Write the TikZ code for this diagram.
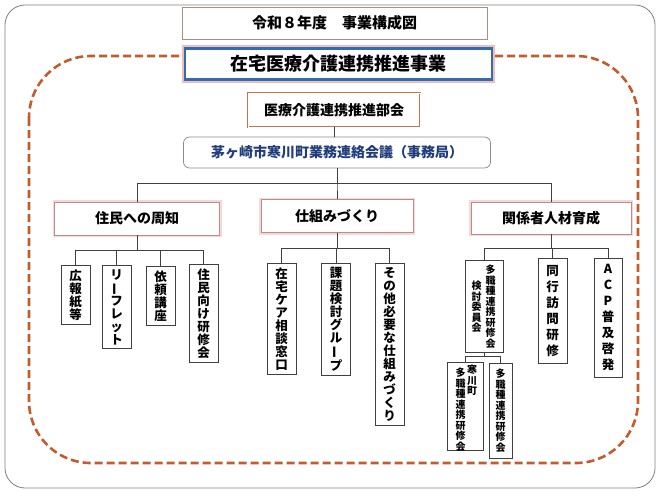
\documentclass[tikz,border=0pt]{standalone}
\usepackage{fontspec}
\setmainfont{Noto Sans CJK JP}
\usetikzlibrary{calc}

\definecolor{framegray}{HTML}{7F7F7F}
\definecolor{dashc}{HTML}{C55A2B}
\definecolor{titlec}{HTML}{A89080}
\definecolor{mainblue}{HTML}{2E6DB5}
\definecolor{glowpink}{HTML}{F3BDB4}
\definecolor{bukaic}{HTML}{C87350}
\definecolor{chigc}{HTML}{203C7A}
\definecolor{boxgray}{HTML}{8A8A8A}
\definecolor{tierc}{HTML}{C08A8A}
\definecolor{tierglow}{HTML}{F6D9D6}
\definecolor{linec}{HTML}{404040}

\newcommand\chouon{\rotatebox[origin=c]{90}{ー}}

\tikzset{
  conn/.style={draw=linec, line width=0.7pt},
  titlebox/.style={draw=titlec, line width=0.6pt, fill=white, minimum width=305, minimum height=32,
    font=\bfseries\fontsize{15}{17}\selectfont},
  mainbox/.style={preaction={draw=glowpink, line width=6pt}, draw=mainblue, line width=2.4pt, fill=white,
    minimum width=307, minimum height=31, font=\bfseries\fontsize{18}{20}\selectfont},
  bukaibox/.style={draw=bukaic, double=white, double distance=0.9pt, line width=0.8pt, fill=white,
    minimum width=172, minimum height=34, font=\bfseries\fontsize{14}{16}\selectfont},
  chigbox/.style={draw=boxgray, line width=0.7pt, rounded corners=6, fill=white, text=chigc,
    minimum width=307, minimum height=31, font=\bfseries\fontsize{14}{16}\selectfont},
  tierbox/.style={preaction={draw=tierglow, line width=4pt}, draw=tierc, line width=0.9pt, fill=white,
    minimum height=33, font=\bfseries\fontsize{14}{16}\selectfont},
  vbox/.style={draw=linec, line width=0.8pt, fill=white, align=center, anchor=north,
    minimum width=29, inner xsep=2pt, inner ysep=4pt, font=\bfseries\fontsize{12.5}{13}\selectfont},
  vwide/.style={vbox, font=\bfseries\fontsize{12.5}{16}\selectfont},
  vsmall/.style={align=center, anchor=north, inner sep=0pt, font=\bfseries\fontsize{10}{10.5}\selectfont}
}

\begin{document}
\begin{tikzpicture}[x=1pt, y=-1pt]
\useasboundingbox (0,0) rectangle (660,495);
\draw[framegray, line width=0.8pt, rounded corners=20] (5,5) rectangle (655,488);
\draw[dashc, line width=2.6pt, dash pattern=on 8pt off 4pt, rounded corners=62] (29,56) rectangle (638,463);

\node[titlebox] (title) at (334.5,23) {令和８年度　事業構成図};
\node[mainbox] (main) at (338.5,64) {在宅医療介護連携推進事業};
\node[bukaibox] (bukai) at (334,110) {医療介護連携推進部会};
\node[chigbox] (chig) at (337,152.5) {茅ヶ崎市寒川町業務連絡会議（事務局）};

\node[tierbox, minimum width=165] (jumin) at (137,218.5) {住民への周知};
\node[tierbox, minimum width=152] (shikumi) at (337,216) {仕組みづくり};
\node[tierbox, minimum width=160, minimum height=32] (kankei) at (551,218) {関係者人材育成};

\node[vbox] (koho) at (75.5,265) {広\\報\\紙\\等};
\node[vbox] (leaf) at (116.5,265) {リ\\\chouon\\フ\\レ\\ッ\\ト};
\node[vbox] (irai) at (160.5,266) {依\\頼\\講\\座};
\node[vbox] (jkenshu) at (203.5,264) {住\\民\\向\\け\\研\\修\\会};

\node[vbox, minimum height=110] (soudan) at (281.5,263) {在\\宅\\ケ\\ア\\相\\談\\窓\\口};
\node[vbox, minimum height=110] (kadai) at (336,263) {課\\題\\検\\討\\グ\\ル\\\chouon\\プ};
\node[vbox] (sonota) at (389.5,263) {そ\\の\\他\\必\\要\\な\\仕\\組\\み\\づ\\く\\り};

\node[vbox, minimum width=38, minimum height=92] (iinkai) at (484,260) {};
\node[vsmall] (iinkaiR) at (490.5,265) {多\\職\\種\\連\\携\\研\\修\\会};
\node[vsmall] (iinkaiL) at (476.5,281) {検\\討\\委\\員\\会};
\node[vwide, minimum height=105] (doukou) at (552.5,258) {同\\行\\訪\\問\\研\\修};
\node[vwide, minimum width=28, minimum height=119] (acp) at (608,258) {A\\C\\P\\普\\及\\啓\\発};

\node[vbox, minimum width=36, minimum height=88] (samu) at (465,362) {};
\node[vsmall] (samuR) at (472,365) {寒\\川\\町};
\node[vsmall] (samuL) at (460.5,368) {多\\職\\種\\連\\携\\研\\修\\会};
\node[vbox, minimum width=23, minimum height=95, font=\bfseries\fontsize{10}{10.5}\selectfont] (tasho) at (500.5,363) {多\\職\\種\\連\\携\\研\\修\\会};

\coordinate (b0) at (0,183);
\coordinate (b1) at (0,250);
\coordinate (b2) at (0,248);
\coordinate (b4) at (0,356);

\draw[conn] (bukai.south) -- (bukai.south |- chig.north);
\foreach \c in {jumin,shikumi,kankei}
  \draw[conn] (chig.south) |- (b0 -| \c.north) -- (\c.north);
\foreach \c in {koho,leaf,irai,jkenshu}
  \draw[conn] (jumin.south) |- (b1 -| \c.north) -- (\c.north);
\foreach \c in {soudan,kadai,sonota}
  \draw[conn] (shikumi.south) |- (b2 -| \c.north) -- (\c.north);
\foreach \c in {iinkai,doukou,acp}
  \draw[conn] (kankei.south) |- (b2 -| \c.north) -- (\c.north);
\foreach \c in {samu,tasho}
  \draw[conn] (iinkai.south) |- (b4 -| \c.north) -- (\c.north);
\end{tikzpicture}
\end{document}
